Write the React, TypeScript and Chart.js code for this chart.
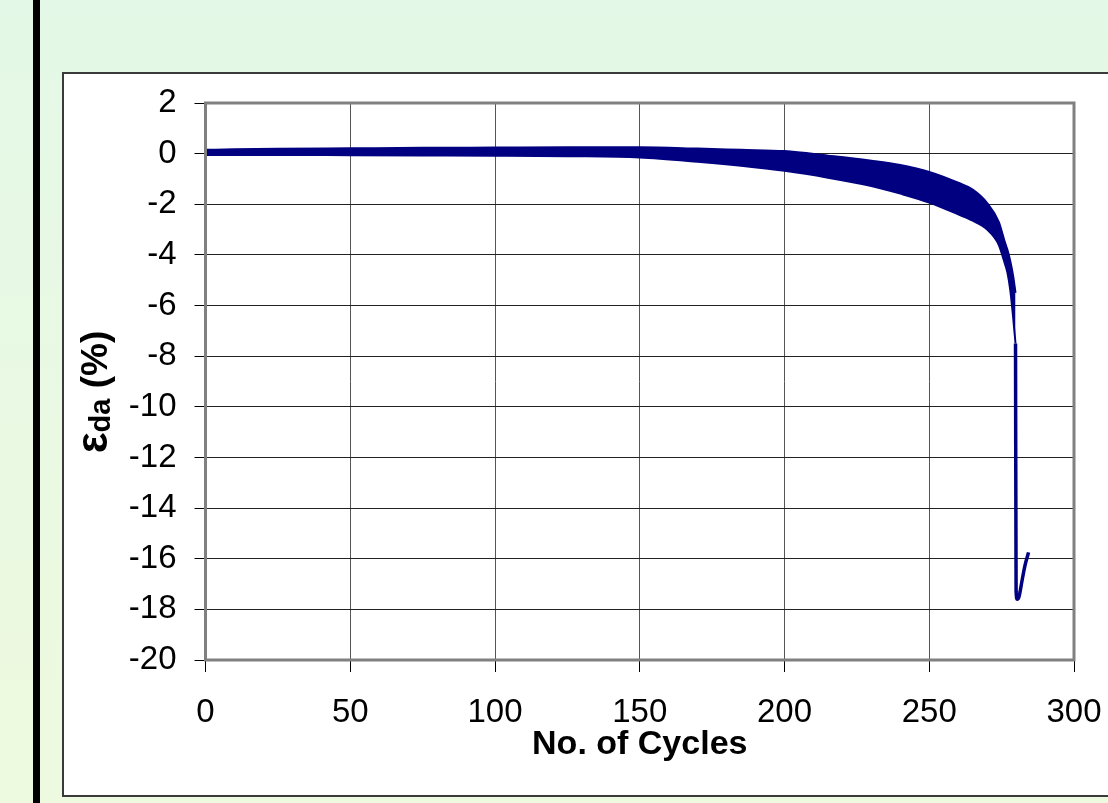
import React, { useEffect, useRef } from 'react';
import { Chart, registerables } from 'chart.js';

Chart.register(...registerables);

// Cycle numbers at which the strain envelope was read
const envelopeCycles = [0, 10, 25, 50, 75, 100, 125, 150, 170, 185, 200, 215, 230, 240, 250, 260, 265, 270, 274, 276, 277, 278, 279, 279.8];
// Upper envelope of the cyclic double-amplitude strain (%)
const upperStrain = [0.15, 0.17, 0.19, 0.21, 0.23, 0.24, 0.25, 0.25, 0.2, 0.15, 0.1, -0.08, -0.28, -0.45, -0.72, -1.15, -1.42, -1.95, -2.7, -3.45, -3.8, -4.25, -4.85, -5.5];
// Lower envelope of the cyclic double-amplitude strain (%)
const lowerStrain = [-0.05, -0.05, -0.05, -0.06, -0.07, -0.08, -0.1, -0.15, -0.32, -0.48, -0.68, -0.95, -1.28, -1.58, -1.93, -2.4, -2.65, -3.0, -3.6, -4.3, -4.7, -5.4, -6.5, -7.5];
// Final collapse
const failureCycles = [279.8, 280.0, 280.4, 281, 282, 283, 284.3];
const failureStrain = [-7.5, -17.3, -17.6, -17.5, -16.9, -16.3, -15.75];

const xTickValues = [0, 50, 100, 150, 200, 250, 300];
const yTickValues = [2, 0, -2, -4, -6, -8, -10, -12, -14, -16, -18, -20];

const xTitle = 'No. of Cycles';
const yTitleMain = 'ε';
const yTitleSub = 'da';
const yTitleRest = ' (%)';

const NAVY = '#000080';
const FONT = "'Liberation Sans', Arial, sans-serif";

export default function App() {
  const ref = useRef<HTMLCanvasElement | null>(null);

  useEffect(() => {
    if (!ref.current) return;
    const toPts = (xs: number[], ys: number[]) => xs.map((x, i) => ({ x, y: ys[i] }));

    const titlesPlugin = {
      id: 'titlesPlugin',
      afterDatasetsDraw(chart: any) {
        const { ctx, chartArea } = chart;
        ctx.save();
        ctx.strokeStyle = '#808080';
        ctx.lineWidth = 3;
        ctx.strokeRect(chartArea.left, chartArea.top, chartArea.right - chartArea.left, chartArea.bottom - chartArea.top);
        ctx.restore();
      },
      afterDraw(chart: any) {
        const { ctx, chartArea } = chart;
        ctx.save();
        ctx.fillStyle = '#000';
        ctx.font = `bold 34px ${FONT}`;
        ctx.textAlign = 'center';
        ctx.textBaseline = 'alphabetic';
        ctx.fillText(xTitle, (chartArea.left + chartArea.right) / 2, 682);

        // rotated y title with subscript
        ctx.translate(32.5, 320);
        ctx.rotate(-Math.PI / 2);
        ctx.textAlign = 'left';
        ctx.textBaseline = 'alphabetic';
        const eps = `bold 44px ${FONT}`;
        const big = `bold 37px ${FONT}`;
        const small = `bold 29px ${FONT}`;
        ctx.font = eps;
        const w1 = ctx.measureText(yTitleMain).width;
        ctx.font = big;
        const w3 = ctx.measureText(yTitleRest).width;
        ctx.font = small;
        const w2 = ctx.measureText(yTitleSub).width;
        const total = w1 + w2 + w3;
        let x = -total / 2;
        const base = 12;
        ctx.font = eps;
        ctx.fillText(yTitleMain, x, base);
        x += w1;
        ctx.font = small;
        ctx.fillText(yTitleSub, x, base + 3);
        x += w2;
        ctx.font = big;
        ctx.fillText(yTitleRest, x, base);
        ctx.restore();
      },
    };

    const chart = new Chart(ref.current, {
      type: 'line',
      data: {
        datasets: [
          {
            data: toPts(envelopeCycles, upperStrain),
            borderColor: NAVY,
            backgroundColor: NAVY,
            borderWidth: 2,
            pointRadius: 0,
            cubicInterpolationMode: 'monotone',
            fill: false,
          },
          {
            data: toPts(envelopeCycles, lowerStrain),
            borderColor: NAVY,
            backgroundColor: NAVY,
            borderWidth: 2,
            pointRadius: 0,
            cubicInterpolationMode: 'monotone',
            fill: '-1',
          },
          {
            data: toPts(failureCycles, failureStrain),
            borderColor: NAVY,
            backgroundColor: NAVY,
            borderWidth: 3.5,
            pointRadius: 0,
            cubicInterpolationMode: 'monotone',
            fill: false,
          },
        ],
      },
      options: {
        responsive: false,
        animation: false,
        layout: { padding: { top: 31, right: 34, left: 0, bottom: 0 } },
        plugins: {
          legend: { display: false },
          tooltip: { enabled: false },
          title: { display: false },
        },
        scales: {
          x: {
            type: 'linear',
            min: 0,
            max: 300,
            afterBuildTicks: (scale: any) => {
              scale.ticks = xTickValues.map((v) => ({ value: v }));
            },
            afterFit: (scale: any) => {
              scale.height = 135;
              scale.paddingLeft = 0;
              scale.paddingRight = 0;
            },
            grid: { color: '#555', lineWidth: 1, tickColor: '#000', tickLength: 12 },
            border: { display: false },
            ticks: {
              color: '#000',
              font: { family: FONT, size: 33 },
              padding: 21,
              maxRotation: 0,
              autoSkip: false,
            },
          },
          y: {
            type: 'linear',
            min: -20,
            max: 2,
            afterBuildTicks: (scale: any) => {
              scale.ticks = yTickValues.map((v) => ({ value: v }));
            },
            afterFit: (scale: any) => {
              scale.width = 143.5;
              scale.paddingTop = 0;
              scale.paddingBottom = 0;
            },
            grid: { color: '#222', lineWidth: 1, tickColor: '#000', tickLength: 11 },
            border: { display: false },
            ticks: {
              color: '#000',
              font: { family: FONT, size: 33 },
              padding: 18,
              autoSkip: false,
            },
          },
        },
      } as any,
      plugins: [titlesPlugin],
    });
    return () => chart.destroy();
  }, []);

  return (
    <div
      style={{
        position: 'fixed',
        left: 0,
        top: 0,
        width: 1108,
        height: 803,
        overflow: 'hidden',
        background: 'linear-gradient(to bottom, #e3f8e6 0%, #e9f9e3 50%, #eefadf 100%)',
      }}
    >
      <div style={{ position: 'absolute', left: 33, top: 0, width: 7, height: 803, background: '#000' }} />
      <div
        style={{
          position: 'absolute',
          left: 62,
          top: 72,
          width: 1100,
          height: 721,
          border: '2px solid #3a3a3a',
          background: '#fff',
        }}
      />
      <canvas
        ref={ref}
        width={1046}
        height={723}
        style={{ position: 'absolute', left: 62, top: 72, width: 1046, height: 723 }}
      />
    </div>
  );
}
